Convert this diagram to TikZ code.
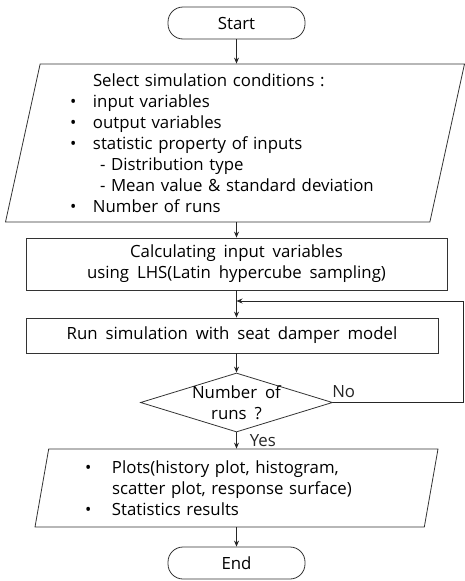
\documentclass[tikz,border=0pt]{standalone}
\usepackage{fontspec}
\setmainfont{Open Sans}[WordSpace=1.8]
\usetikzlibrary{arrows.meta,shapes.geometric,positioning}

\begin{document}
\begin{tikzpicture}[
    x=1pt, y=-1pt,
    every node/.style={font=\fontsize{16.8pt}{21pt}\selectfont},
    term/.style={draw=black!80, line width=0.8pt, rounded corners=15pt, minimum width=137pt, minimum height=32pt, inner sep=0pt},
    proc/.style={draw=black!80, line width=0.8pt, inner sep=0pt, align=center},
    io/.style={draw=black!80, line width=0.8pt, trapezium, trapezium left angle=76, trapezium right angle=104, trapezium stretches body, inner sep=0pt, align=left},
    dec/.style={draw=black!80, line width=0.8pt, diamond, aspect=3.25, inner sep=-1pt, align=center},
    arr/.style={-{Stealth[length=6pt, width=5pt]}, line width=0.8pt, black!85},
    lbl/.style={inner sep=1pt}
]
\useasboundingbox (0,0) rectangle (464,581);

\node[term] (start) at (236.5,23) {Start};
\node[io, minimum width=459pt, minimum height=158pt, text width=330pt] (cond) at (235,143) {%
\hspace*{23pt}Select simulation conditions :\\
\makebox[23pt][l]{\textbullet}input variables\\
\makebox[23pt][l]{\textbullet}output variables\\
\makebox[23pt][l]{\textbullet}statistic property of inputs\\
\hspace*{30pt}- Distribution type\\
\hspace*{30pt}- Mean value \& standard deviation\\
\makebox[23pt][l]{\textbullet}Number of runs};
\node[proc, minimum width=421pt, minimum height=52pt] (calc) at (236.5,264) {Calculating input variables\\using LHS(Latin hypercube sampling)};
\node[proc, minimum width=412pt, minimum height=35pt] (run) at (232,335.5) {Run simulation with seat damper model};
\node[dec, minimum width=192pt, minimum height=59pt] (check) at (236.5,402.5) {Number of\\runs ?};
\node[io, minimum width=403pt, minimum height=78pt, text width=303pt] (out) at (236.5,488) {%
\makebox[27pt][l]{\textbullet}Plots(history plot, histogram,\\
\hspace*{27pt}scatter plot, response surface)\\
\makebox[27pt][l]{\textbullet}Statistics results};
\node[term] (end) at (236.5,563) {End};

\coordinate (loop) at (236.5,301);
\coordinate (edge) at (463,0);

\draw[arr] (start) -- (start.south |- cond.north);
\draw[arr] (calc.north |- cond.south) -- (calc);
\draw[arr] (calc) -- (calc.south |- run.north);
\draw[arr] (check.north |- run.south) -- (check);
\draw[arr] (check.east) -- node[lbl, pos=0, anchor=south west, xshift=-2pt, yshift=3pt] {No} (check.east -| edge) |- (loop);
\draw[arr] (check) -- node[lbl, right, xshift=12pt] {Yes} (check.south |- out.north);
\draw[arr] (end.north |- out.south) -- (end);
\end{tikzpicture}
\end{document}
